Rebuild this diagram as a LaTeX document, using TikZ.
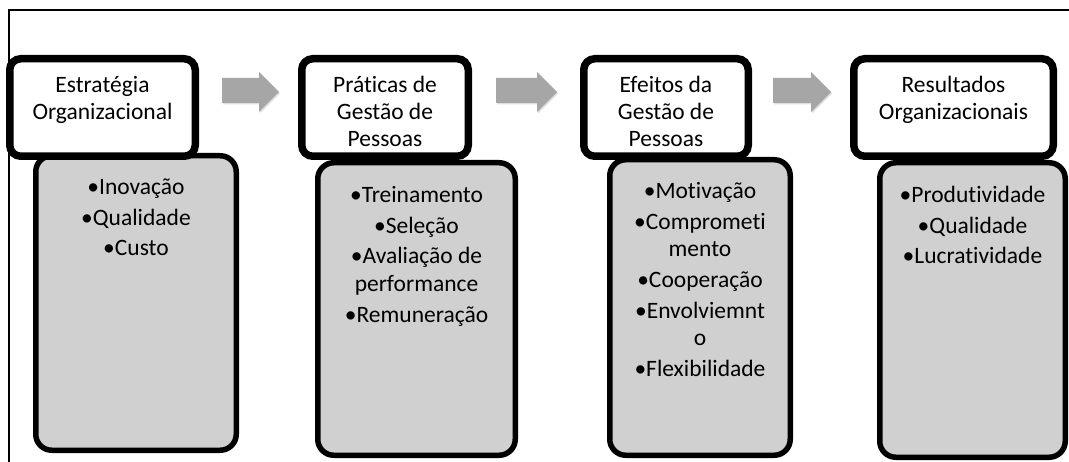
\documentclass[tikz,border=0pt]{standalone}
\usepackage{fontspec}
\setmainfont[Ligatures=NoCommon]{Carlito}
\usetikzlibrary{shadows}
\definecolor{bodygray}{RGB}{208,208,208}
\definecolor{arrowgray}{RGB}{166,166,166}
\begin{document}
\begin{tikzpicture}[x=1pt,y=-1pt,
  hdrbox/.style={draw=black, line width=7.5pt, fill=white, rounded corners=11pt,
    minimum height=97.5pt, inner sep=0pt, outer sep=0pt,
    drop shadow={shadow xshift=1.5pt, shadow yshift=-2pt, opacity=0.3}},
  bodybox/.style={draw=black, line width=5.5pt, fill=bodygray, rounded corners=16pt,
    inner sep=0pt, outer sep=0pt},
  txt/.style={anchor=north, inner sep=0pt, align=center, text=black,
    font={\fontsize{23.5}{27.3}\selectfont}},
  flowarrow/.style={fill=arrowgray, draw=none,
    drop shadow={shadow xshift=1pt, shadow yshift=-1.5pt, opacity=0.25}}
]
\useasboundingbox (0,0) rectangle (1069,462);
% frame
\draw[line width=1.2pt] (9,462) -- (9,10) -- (1069,10);

% bodies
\node[bodybox, minimum width=200.5pt, minimum height=294.5pt] (b1) at (136,303) {};
\node[bodybox, minimum width=197.5pt, minimum height=292.5pt] (b2) at (416.5,309) {};
\node[bodybox, minimum width=180.5pt, minimum height=295.5pt] (b3) at (700,307.5) {};
\node[bodybox, minimum width=185.5pt, minimum height=294.5pt] (b4) at (972.5,310) {};

% headers
\node[hdrbox, minimum width=185.5pt] (h1) at (102.5,107.5) {};
\node[hdrbox, minimum width=166.5pt] (h2) at (385,107.5) {};
\node[hdrbox, minimum width=164.5pt] (h3) at (666,107.5) {};
\node[hdrbox, minimum width=199.5pt] (h4) at (953.5,107.5) {};

% header texts
\node[txt] (t1) at (102.5,73) {\strut Estratégia\\Organizacional};
\node[txt] (t2) at (385,73) {\strut Práticas de\\Gestão de\\Pessoas};
\node[txt] (t3) at (666,73) {\strut Efeitos da\\Gestão de\\Pessoas};
\node[txt] (t4) at (953.5,73) {\strut Resultados\\Organizacionais};

% body texts
\node[txt] (l1) at (136,175) {\strut •Inovação\\[3.5pt]•Qualidade\\[3.5pt]•Custo};
\node[txt] (l2) at (416.5,183) {\strut •Treinamento\\[3.5pt]•Seleção\\[3.5pt]•Avaliação de\\performance\\[3.5pt]•Remuneração};
\node[txt] (l3) at (700,179) {\strut •Motivação\\[3.5pt]•Comprometi\\mento\\[3.5pt]•Cooperação\\[3.5pt]•Envolviemnt\\o\\[3.5pt]•Flexibilidade};
\node[txt] (l4) at (972.5,183) {\strut •Produtividade\\[3.5pt]•Qualidade\\[3.5pt]•Lucratividade};

% arrows
\fill[flowarrow] (222,78) -- (259,78) -- (259,72) -- (279,92) -- (259,112) -- (259,103) -- (222,103) -- cycle;
\fill[flowarrow] (496,78) -- (537,78) -- (537,72) -- (557,92) -- (537,112) -- (537,103) -- (496,103) -- cycle;
\fill[flowarrow] (773,78) -- (811,78) -- (811,72) -- (831,92) -- (811,112) -- (811,103) -- (773,103) -- cycle;
\end{tikzpicture}
\end{document}
